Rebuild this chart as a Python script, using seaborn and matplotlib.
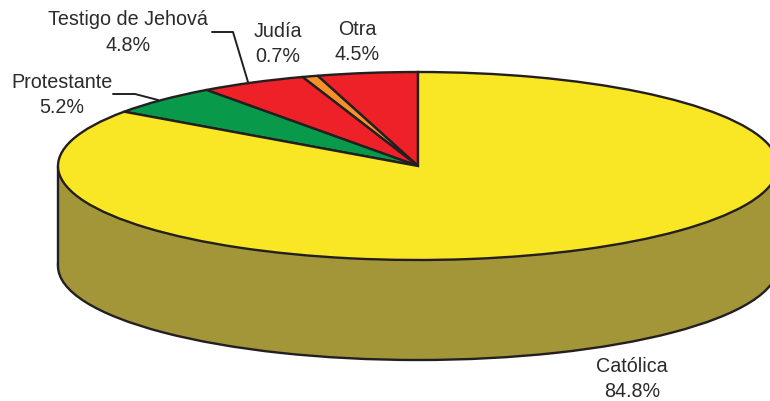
import matplotlib
matplotlib.use("Agg")
import matplotlib.pyplot as plt
import seaborn as sns

# Data, in the order drawn counter-clockwise from 12 o'clock
religions = ["Otra", "Judía", "Testigo de Jehová", "Protestante", "Católica"]
shares = [4.5, 0.7, 4.8, 5.2, 84.8]
colors = ["#EE2129", "#F6902A", "#EE2129", "#089A4A", "#F9E725"]
wall_color = "#A29639"
edge_color = "#231F20"
text_color = "#2B2B2B"

# Layout in pixels
W, H = 770, 401
CX, CY, RX, RY, DEPTH = 418, 166, 360, 94, 100

sns.set_theme(style="white")
plt.rcParams["font.family"] = ["Liberation Sans", "DejaVu Sans"]

fig = plt.figure(figsize=(W / 100, H / 100), dpi=100)
ax = fig.add_axes([0, 0, 1, 1])
depth = DEPTH / RY
lw = 1.7

# Lower rim and wall of the cylinder
ax.pie([1], colors=[wall_color], center=(0, -depth), radius=1,
       wedgeprops=dict(edgecolor=edge_color, linewidth=lw))
ax.bar(0, depth, width=2, bottom=-depth, color=wall_color, linewidth=0, zorder=2)
ax.vlines([-1, 1], -depth, 0, color=edge_color, linewidth=lw, zorder=3)

# Top face
wedges, _ = ax.pie(shares, colors=colors, startangle=90, radius=1,
                   wedgeprops=dict(edgecolor=edge_color, linewidth=lw, zorder=4))

ax.set_aspect("auto")
ax.set_xlim((0 - CX) / RX, (W - CX) / RX)
ax.set_ylim((CY - H) / RY, CY / RY)
ax.axis("off")

# Overlay in pixel coordinates for labels and leader lines
ov = fig.add_axes([0, 0, 1, 1], facecolor="none")
ov.set_xlim(0, W)
ov.set_ylim(H, 0)
ov.axis("off")

labels = [
    ("Testigo de Jehová\n4.8%", 128, 32.5),
    ("Judía\n0.7%", 278, 44),
    ("Otra\n4.5%", 357, 42),
    ("Protestante\n5.2%", 62, 95),
    ("Católica\n84.8%", 632, 379),
]
for txt, x, y in labels:
    ov.text(x, y, txt, ha="center", va="center", fontsize=14.2,
            color=text_color, linespacing=1.45)

ov.plot([212, 233, 248], [32, 32, 82], color=edge_color, lw=1.4)
ov.plot([113, 135, 158], [94, 94, 100], color=edge_color, lw=1.4)

fig.savefig("out.png", dpi=100, facecolor="white")
